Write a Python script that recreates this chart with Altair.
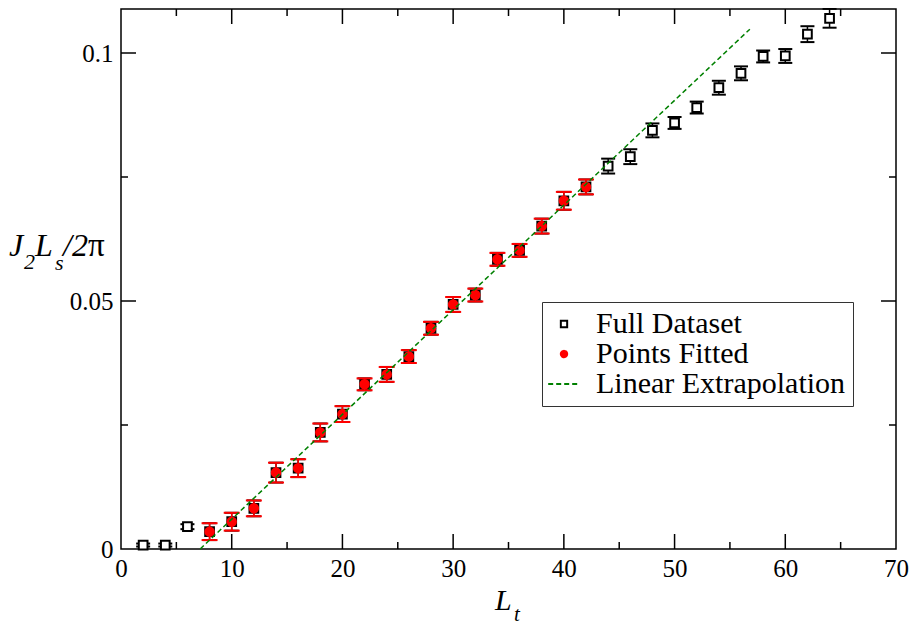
import altair as alt
import pandas as pd

# ---------------- data ----------------
LT = list(range(2, 66, 2))
J_VAL = [0.0008, 0.0008, 0.0045, 0.0035, 0.0055, 0.0082, 0.0154, 0.0163,
         0.0235, 0.0272, 0.0332, 0.0352, 0.0388, 0.0445, 0.0493, 0.0512,
         0.0584, 0.0602, 0.0651, 0.0702, 0.0730, 0.0772, 0.0791, 0.0844,
         0.0859, 0.0890, 0.0930, 0.0959, 0.0993, 0.0994, 0.1038, 0.1070]
J_ERR = [0.0003, 0.0003, 0.0005, 0.0017, 0.0018, 0.0016, 0.0020, 0.0018,
         0.0018, 0.0016, 0.0012, 0.0015, 0.0013, 0.0013, 0.0015, 0.0013,
         0.0013, 0.0013, 0.0015, 0.0018, 0.0015, 0.0015, 0.0015, 0.0014,
         0.0012, 0.0012, 0.0014, 0.0014, 0.0012, 0.0014, 0.0016, 0.0019]
FIT_MIN, FIT_MAX = 8, 42
LINE_X = [7.15, 56.8]
LINE_Y = [0.0, 0.1048]

X_LABELS = [0, 10, 20, 30, 40, 50, 60, 70]
Y_LABELS = [0, 0.05, 0.1]
X_MAJOR = [10, 20, 30, 40, 50, 60]
X_MINOR = [5, 15, 25, 35, 45, 55, 65]
Y_MAJOR = [0.05, 0.1]
Y_MINOR = [0.025, 0.075]
SERIES = ["Full Dataset", "Points Fitted", "Linear Extrapolation"]

# ---------------- layout / style ----------------
FONT = "Liberation Serif, Times New Roman, Times, serif"
W, H = 775, 540
Y_TOP = 0.1 * H / 496.0

full = pd.DataFrame({"Lt": LT, "J": J_VAL, "err": J_ERR})
full["lo"] = full["J"] - full["err"]
full["hi"] = full["J"] + full["err"]
full["series"] = SERIES[0]
fit = full[(full["Lt"] >= FIT_MIN) & (full["Lt"] <= FIT_MAX)].copy()
fit["series"] = SERIES[1]
line = pd.DataFrame({"Lt": LINE_X, "J": LINE_Y, "series": SERIES[2]})

x_scale = alt.Scale(domain=[0, 70], nice=False, zero=False)
y_scale = alt.Scale(domain=[0, Y_TOP], nice=False, zero=False)
x_axis = alt.Axis(values=X_LABELS, title=None, grid=False, ticks=False, tickSize=0,
                  domain=False, labelPadding=7, labelFont=FONT, labelFontSize=25,
                  labelColor="black", format="d", labelFlush=False, labelOverlap=False)
y_axis = alt.Axis(values=Y_LABELS, title=None, grid=False, ticks=False, tickSize=0,
                  domain=False, labelPadding=8, labelFont=FONT, labelFontSize=25,
                  labelColor="black", format="~g", labelFlush=False, labelOverlap=False)


def X(f):
    return alt.X(f, type="quantitative", scale=x_scale, axis=x_axis)


def Y(f):
    return alt.Y(f, type="quantitative", scale=y_scale, axis=y_axis)


def Y2(f):
    return alt.Y2(f)


leg = alt.Legend(title=None, orient="none", legendX=421, legendY=293, padding=7,
                 symbolOffset=0, labelOffset=17, labelFont=FONT, labelFontSize=30,
                 labelColor="black", labelLimit=0, symbolSize=40, symbolStrokeWidth=2,
                 rowPadding=0, strokeColor="#333333", fillColor="white",
                 labelExpr="datum.label + '\u00a0\u00a0\u00a0'")

stroke_enc = alt.Stroke("series:N", scale=alt.Scale(domain=SERIES, range=["black", "red", "green"]), legend=leg)
fill_enc = alt.Fill("series:N", scale=alt.Scale(domain=SERIES, range=["white", "red", "transparent"]), legend=leg)
shape_enc = alt.Shape("series:N", scale=alt.Scale(domain=SERIES, range=["square", "circle", "M-5,0H5"]), legend=leg)
dash_enc = alt.StrokeDash("series:N", scale=alt.Scale(domain=SERIES, range=[[1, 0], [1, 0], [5, 3]]), legend=leg)

layers = []

# full dataset error bars (black)
layers.append(alt.Chart(full).mark_rule(color="black", strokeWidth=1.5).encode(x=X("Lt"), y=Y("lo"), y2=Y2("hi")))
for f in ["lo", "hi"]:
    layers.append(alt.Chart(full).mark_tick(color="black", orient="horizontal", size=14, thickness=2, opacity=1)
                  .encode(x=X("Lt"), y=Y(f)))
# squares
layers.append(alt.Chart(full).mark_point(size=76, strokeWidth=2, opacity=1, fillOpacity=1, filled=True)
              .encode(x=X("Lt"), y=Y("J"), stroke=stroke_enc, fill=fill_enc, shape=shape_enc))
# fitted error bars (red)
layers.append(alt.Chart(fit).mark_rule(color="red", strokeWidth=1.5).encode(x=X("Lt"), y=Y("lo"), y2=Y2("hi")))
for f in ["lo", "hi"]:
    layers.append(alt.Chart(fit).mark_tick(color="red", orient="horizontal", size=16, thickness=2, opacity=1)
                  .encode(x=X("Lt"), y=Y(f)))
# red circles
layers.append(alt.Chart(fit).mark_point(size=72, strokeWidth=2, opacity=1, fillOpacity=1, filled=True)
              .encode(x=X("Lt"), y=Y("J"), stroke=stroke_enc, fill=fill_enc, shape=shape_enc))
# linear extrapolation
layers.append(alt.Chart(line).mark_line(strokeWidth=1.5)
              .encode(x=X("Lt"), y=Y("J"), stroke=stroke_enc, strokeDash=dash_enc))

# inward ticks on all four sides
for vals, ln in [(X_MAJOR, 15), (X_MINOR, 7)]:
    d = pd.DataFrame({"v": vals})
    layers.append(alt.Chart(d).mark_rule(color="black", strokeWidth=1.5)
                  .encode(x=X("v"), y=alt.value(H), y2=alt.value(H - ln)))
    layers.append(alt.Chart(d).mark_rule(color="black", strokeWidth=1.5)
                  .encode(x=X("v"), y=alt.value(0), y2=alt.value(ln)))
for vals, ln in [(Y_MAJOR, 15), (Y_MINOR, 7)]:
    d = pd.DataFrame({"v": vals})
    layers.append(alt.Chart(d).mark_rule(color="black", strokeWidth=1.5)
                  .encode(y=Y("v"), x=alt.value(0), x2=alt.value(ln)))
    layers.append(alt.Chart(d).mark_rule(color="black", strokeWidth=1.5)
                  .encode(y=Y("v"), x=alt.value(W), x2=alt.value(W - ln)))

# axis titles with subscripts
one = pd.DataFrame({"a": [0]})


def txt(s, x, y, size, style="italic"):
    return alt.Chart(one).mark_text(text=s, align="left", baseline="alphabetic", font=FONT,
                                    fontSize=size, fontStyle=style, color="black").encode(
        x=alt.value(x), y=alt.value(y))


layers += [
    txt("L", 374, 601, 30),
    txt("t", 393, 612, 21),
    txt("J", -112, 247, 32),
    txt("2", -97, 260, 22),
    txt("L", -86, 247, 32),
    txt("s", -66, 261, 22),
    txt("/2", -58, 247, 32),
    txt("π", -33, 247, 33, "normal"),
]

chart = alt.layer(*layers).properties(
    width=W, height=H,
    padding={"left": 113, "top": 1, "right": 13, "bottom": 76},
    autosize=alt.AutoSizeParams(type="none"),
).configure_view(stroke="black", strokeWidth=1.5)

chart.save("out.html", embed_options={"renderer": "svg", "actions": False})
